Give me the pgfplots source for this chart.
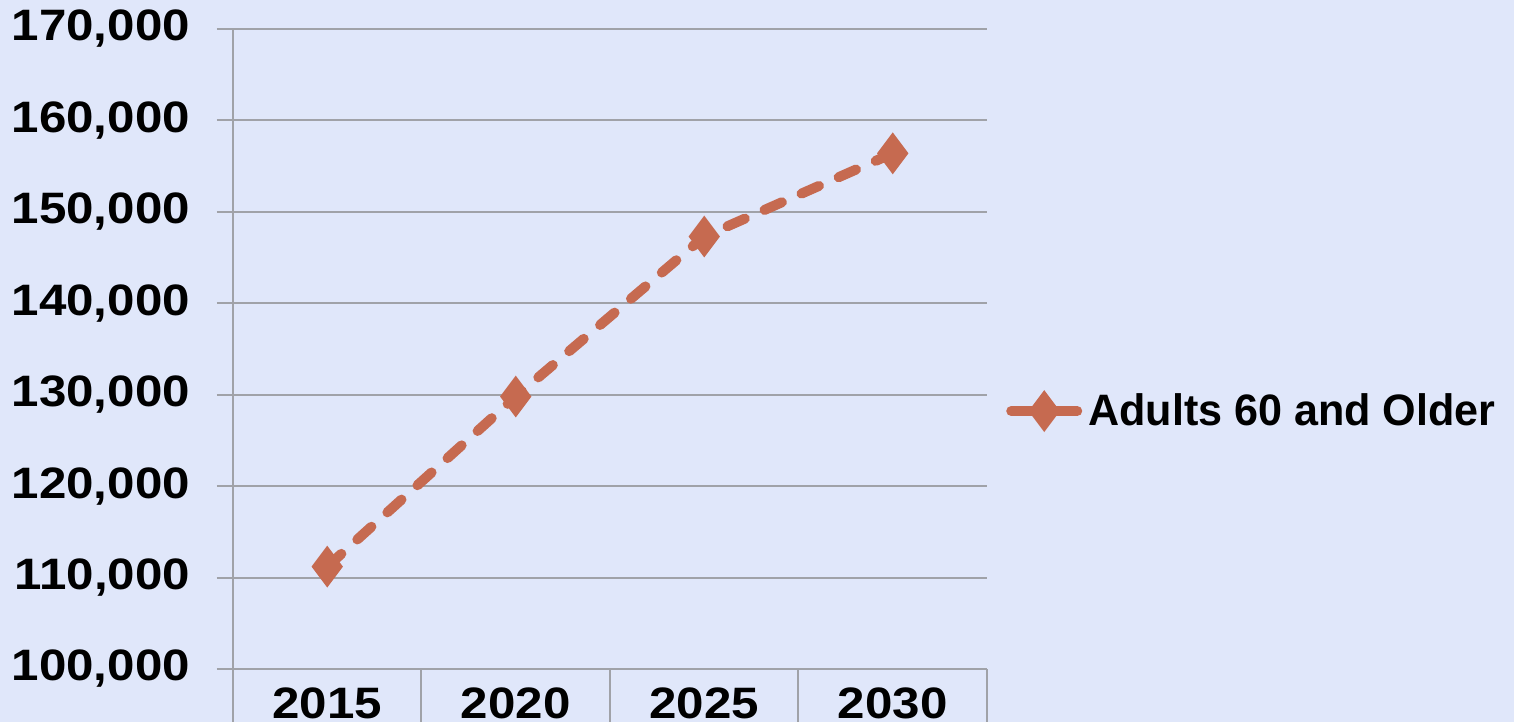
\documentclass[border=0pt]{standalone}
\usepackage{fontspec}
\setmainfont{Liberation Sans}
\newfontfamily\tickf{Liberation Sans}[FakeStretch=1.12]
\newfontfamily\legf{Liberation Sans}[FakeStretch=0.98]
\usepackage{pgfplots}
\usepackage{pgfplotstable}
\pgfplotsset{compat=1.18}
\definecolor{bg}{RGB}{224,231,250}
\definecolor{ser}{RGB}{198,106,80}
\definecolor{gridc}{RGB}{160,162,168}
\definecolor{shad}{RGB}{70,80,100}
\pgfplotstableread{
x y
1 111200
2 129800
3 147300
4 156400
}\datatable
\newcommand{\tickfont}{\fontsize{22}{26}\selectfont\tickf\bfseries}
\newcommand{\legfont}{\fontsize{22}{26}\selectfont\legf\bfseries}
\begin{document}
\begin{tikzpicture}
\fill[bg] (-116.5pt,-26.5pt) rectangle (640.5pt,334.5pt);
\begin{axis}[
  at={(0,0)}, anchor=south west,
  scale only axis, width=377pt, height=320pt,
  xmin=0.5, xmax=4.5, ymin=100000, ymax=170000,
  clip=false,
  axis line style={draw=none},
  xtick={1,2,3,4}, xticklabels={2015,2020,2025,2030},
  x tick style={draw=none},
  ytick={100000,110000,120000,130000,140000,150000,160000,170000},
  yticklabels={{100,000},{110,000},{120,000},{130,000},{140,000},{150,000},{160,000},{170,000}},
  ytick pos=left,
  tick align=outside,
  major tick length=8pt,
  y tick style={draw=gridc, line width=1pt},
  ymajorgrids, grid style={draw=gridc, line width=1pt},
  scaled y ticks=false,
  tick label style={text=black},
  yticklabel style={font=\tickfont, xshift=-10pt},
  xticklabel style={font=\tickfont, yshift=2pt},
  legend style={at={(1.025,0.403)}, anchor=west, draw=none, fill=none,
    font=\legfont, inner sep=0pt, nodes={inner sep=3pt}},
  legend image code/.code={\draw[#1, solid, mark repeat=2, mark phase=2] plot coordinates {(0pt,0pt) (16.5pt,0pt) (33pt,0pt)};},
]
\addplot[only marks, forget plot, mark=diamond*, mark size=6.3pt,
  mark options={fill=shad, draw=none, opacity=0.35, xshift=1.2pt, yshift=-1.8pt}]
  table[x=x,y=y]{\datatable};
\addplot[ser, line width=5pt, dash pattern=on 9.5pt off 10.75pt, line cap=round,
  mark=diamond*, mark size=6.3pt, mark options={solid, fill=ser, draw=none}]
  table[x=x,y=y]{\datatable};
\addlegendentry{Adults 60 and Older}
\draw[gridc, line width=1pt] (axis cs:0.5,170000) -- (axis cs:0.5,100000) -- ++(0pt,-40pt);
\draw[gridc, line width=1pt] (axis cs:1.5,100000) -- ++(0pt,-40pt);
\draw[gridc, line width=1pt] (axis cs:2.5,100000) -- ++(0pt,-40pt);
\draw[gridc, line width=1pt] (axis cs:3.5,100000) -- ++(0pt,-40pt);
\draw[gridc, line width=1pt] (axis cs:4.5,100000) -- ++(0pt,-40pt);
\end{axis}
\pgfresetboundingbox
\useasboundingbox (-116.5pt,-26.5pt) rectangle (640.5pt,334.5pt);
\end{tikzpicture}
\end{document}
